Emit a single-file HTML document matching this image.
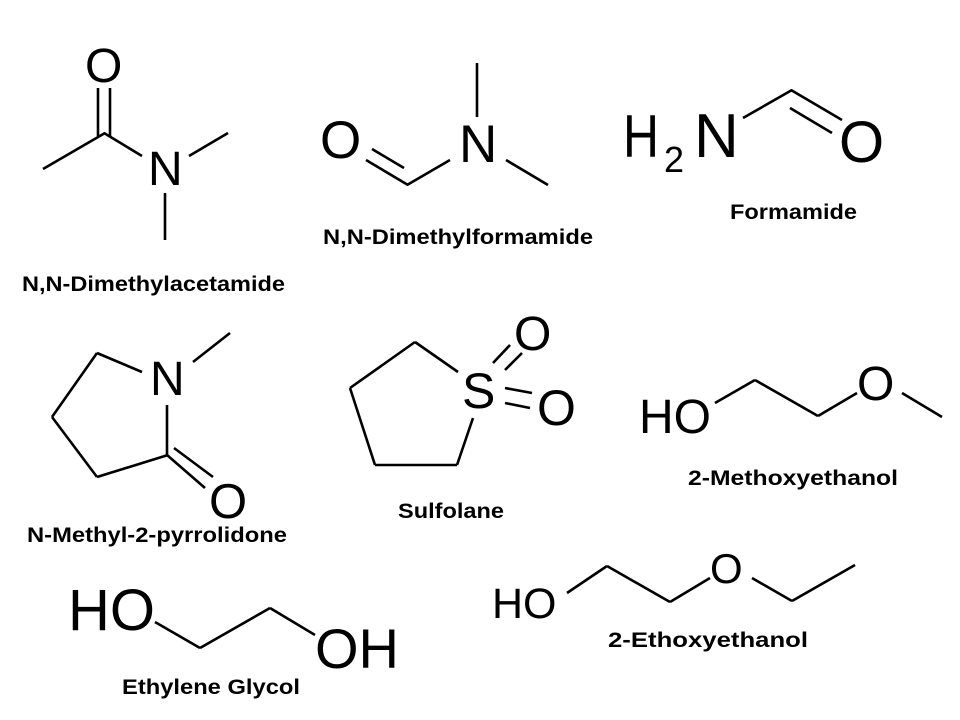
<!DOCTYPE html>
<html><head><meta charset="utf-8"><style>
html,body{margin:0;padding:0;background:#fff;}
svg{display:block;}
text{font-family:"Liberation Sans",Arial,sans-serif;fill:#000;}
.b{font-weight:bold;font-size:21px;}
</style></head><body>
<svg width="960" height="720" viewBox="0 0 960 720" xmlns="http://www.w3.org/2000/svg">
<g stroke="#000" stroke-width="2.6" fill="none" stroke-linecap="butt">
<line x1="43" y1="169" x2="105" y2="133"/>
<line x1="98" y1="88" x2="98" y2="136"/>
<line x1="110" y1="88" x2="110" y2="136"/>
<line x1="104" y1="133" x2="142" y2="156"/>
<line x1="189" y1="156" x2="228" y2="133"/>
<line x1="165" y1="193" x2="165" y2="240"/>
<line x1="477" y1="63" x2="477" y2="117"/>
<line x1="366" y1="160" x2="408" y2="185"/>
<line x1="372" y1="149" x2="404" y2="168"/>
<line x1="407" y1="185" x2="450" y2="160"/>
<line x1="506" y1="160" x2="548" y2="185"/>
<line x1="743" y1="118" x2="792" y2="90"/>
<line x1="791" y1="90" x2="842" y2="120"/>
<line x1="790" y1="108" x2="832" y2="133"/>
<line x1="142" y1="372" x2="97" y2="353"/>
<line x1="97" y1="353" x2="52" y2="417"/>
<line x1="52" y1="417" x2="97" y2="477"/>
<line x1="97" y1="477" x2="168" y2="455"/>
<line x1="167" y1="455" x2="167" y2="405"/>
<line x1="193" y1="362" x2="230" y2="333"/>
<line x1="167" y1="455" x2="205" y2="488"/>
<line x1="174" y1="448" x2="213" y2="477"/>
<line x1="458" y1="372" x2="415" y2="342"/>
<line x1="415" y1="342" x2="350" y2="388"/>
<line x1="350" y1="388" x2="375" y2="465"/>
<line x1="375" y1="465" x2="457" y2="465"/>
<line x1="457" y1="465" x2="473" y2="418"/>
<line x1="493" y1="363" x2="510" y2="345"/>
<line x1="505" y1="370" x2="522" y2="353"/>
<line x1="505" y1="388" x2="532" y2="393"/>
<line x1="505" y1="403" x2="530" y2="408"/>
<line x1="715" y1="403" x2="755" y2="380"/>
<line x1="755" y1="380" x2="818" y2="416"/>
<line x1="818" y1="416" x2="857" y2="393"/>
<line x1="902" y1="393" x2="942" y2="417"/>
<line x1="155" y1="622" x2="200" y2="648"/>
<line x1="200" y1="648" x2="270" y2="608"/>
<line x1="270" y1="608" x2="315" y2="635"/>
<line x1="567" y1="593" x2="607" y2="566"/>
<line x1="607" y1="566" x2="670" y2="602"/>
<line x1="670" y1="602" x2="710" y2="578"/>
<line x1="752" y1="578" x2="792" y2="601"/>
<line x1="792" y1="601" x2="855" y2="565"/>
</g>
<text x="85" y="82" font-size="48">O</text>
<text x="148" y="185" font-size="48">N</text>
<text x="320" y="158" font-size="53">O</text>
<text x="459" y="162" font-size="53">N</text>
<text x="623" y="157" font-size="60" textLength="36" lengthAdjust="spacingAndGlyphs">H</text>
<text x="664" y="172" font-size="36">2</text>
<text x="694" y="157" font-size="62">N</text>
<text x="839" y="162" font-size="58">O</text>
<text x="150" y="395" font-size="48">N</text>
<text x="209" y="518" font-size="49">O</text>
<text x="462" y="408" font-size="50">S</text>
<text x="514" y="350" font-size="48">O</text>
<text x="537" y="425" font-size="50">O</text>
<text x="639" y="433" font-size="48">HO</text>
<text x="857" y="400" font-size="48">O</text>
<text x="68" y="630" font-size="58">HO</text>
<text x="315" y="668" font-size="56">OH</text>
<text x="492" y="618" font-size="43">HO</text>
<text x="710" y="583" font-size="42">O</text>
<text class="b" x="22" y="291" textLength="263" lengthAdjust="spacingAndGlyphs">N,N-Dimethylacetamide</text>
<text class="b" x="323" y="244" textLength="270" lengthAdjust="spacingAndGlyphs">N,N-Dimethylformamide</text>
<text class="b" x="730" y="219" textLength="127" lengthAdjust="spacingAndGlyphs">Formamide</text>
<text class="b" x="27" y="542" textLength="260" lengthAdjust="spacingAndGlyphs">N-Methyl-2-pyrrolidone</text>
<text class="b" x="398" y="518" textLength="106" lengthAdjust="spacingAndGlyphs">Sulfolane</text>
<text class="b" x="688" y="485" textLength="210" lengthAdjust="spacingAndGlyphs">2-Methoxyethanol</text>
<text class="b" x="122" y="694" textLength="178" lengthAdjust="spacingAndGlyphs">Ethylene Glycol</text>
<text class="b" x="608" y="647" textLength="200" lengthAdjust="spacingAndGlyphs">2-Ethoxyethanol</text>
</svg>
</body></html>
